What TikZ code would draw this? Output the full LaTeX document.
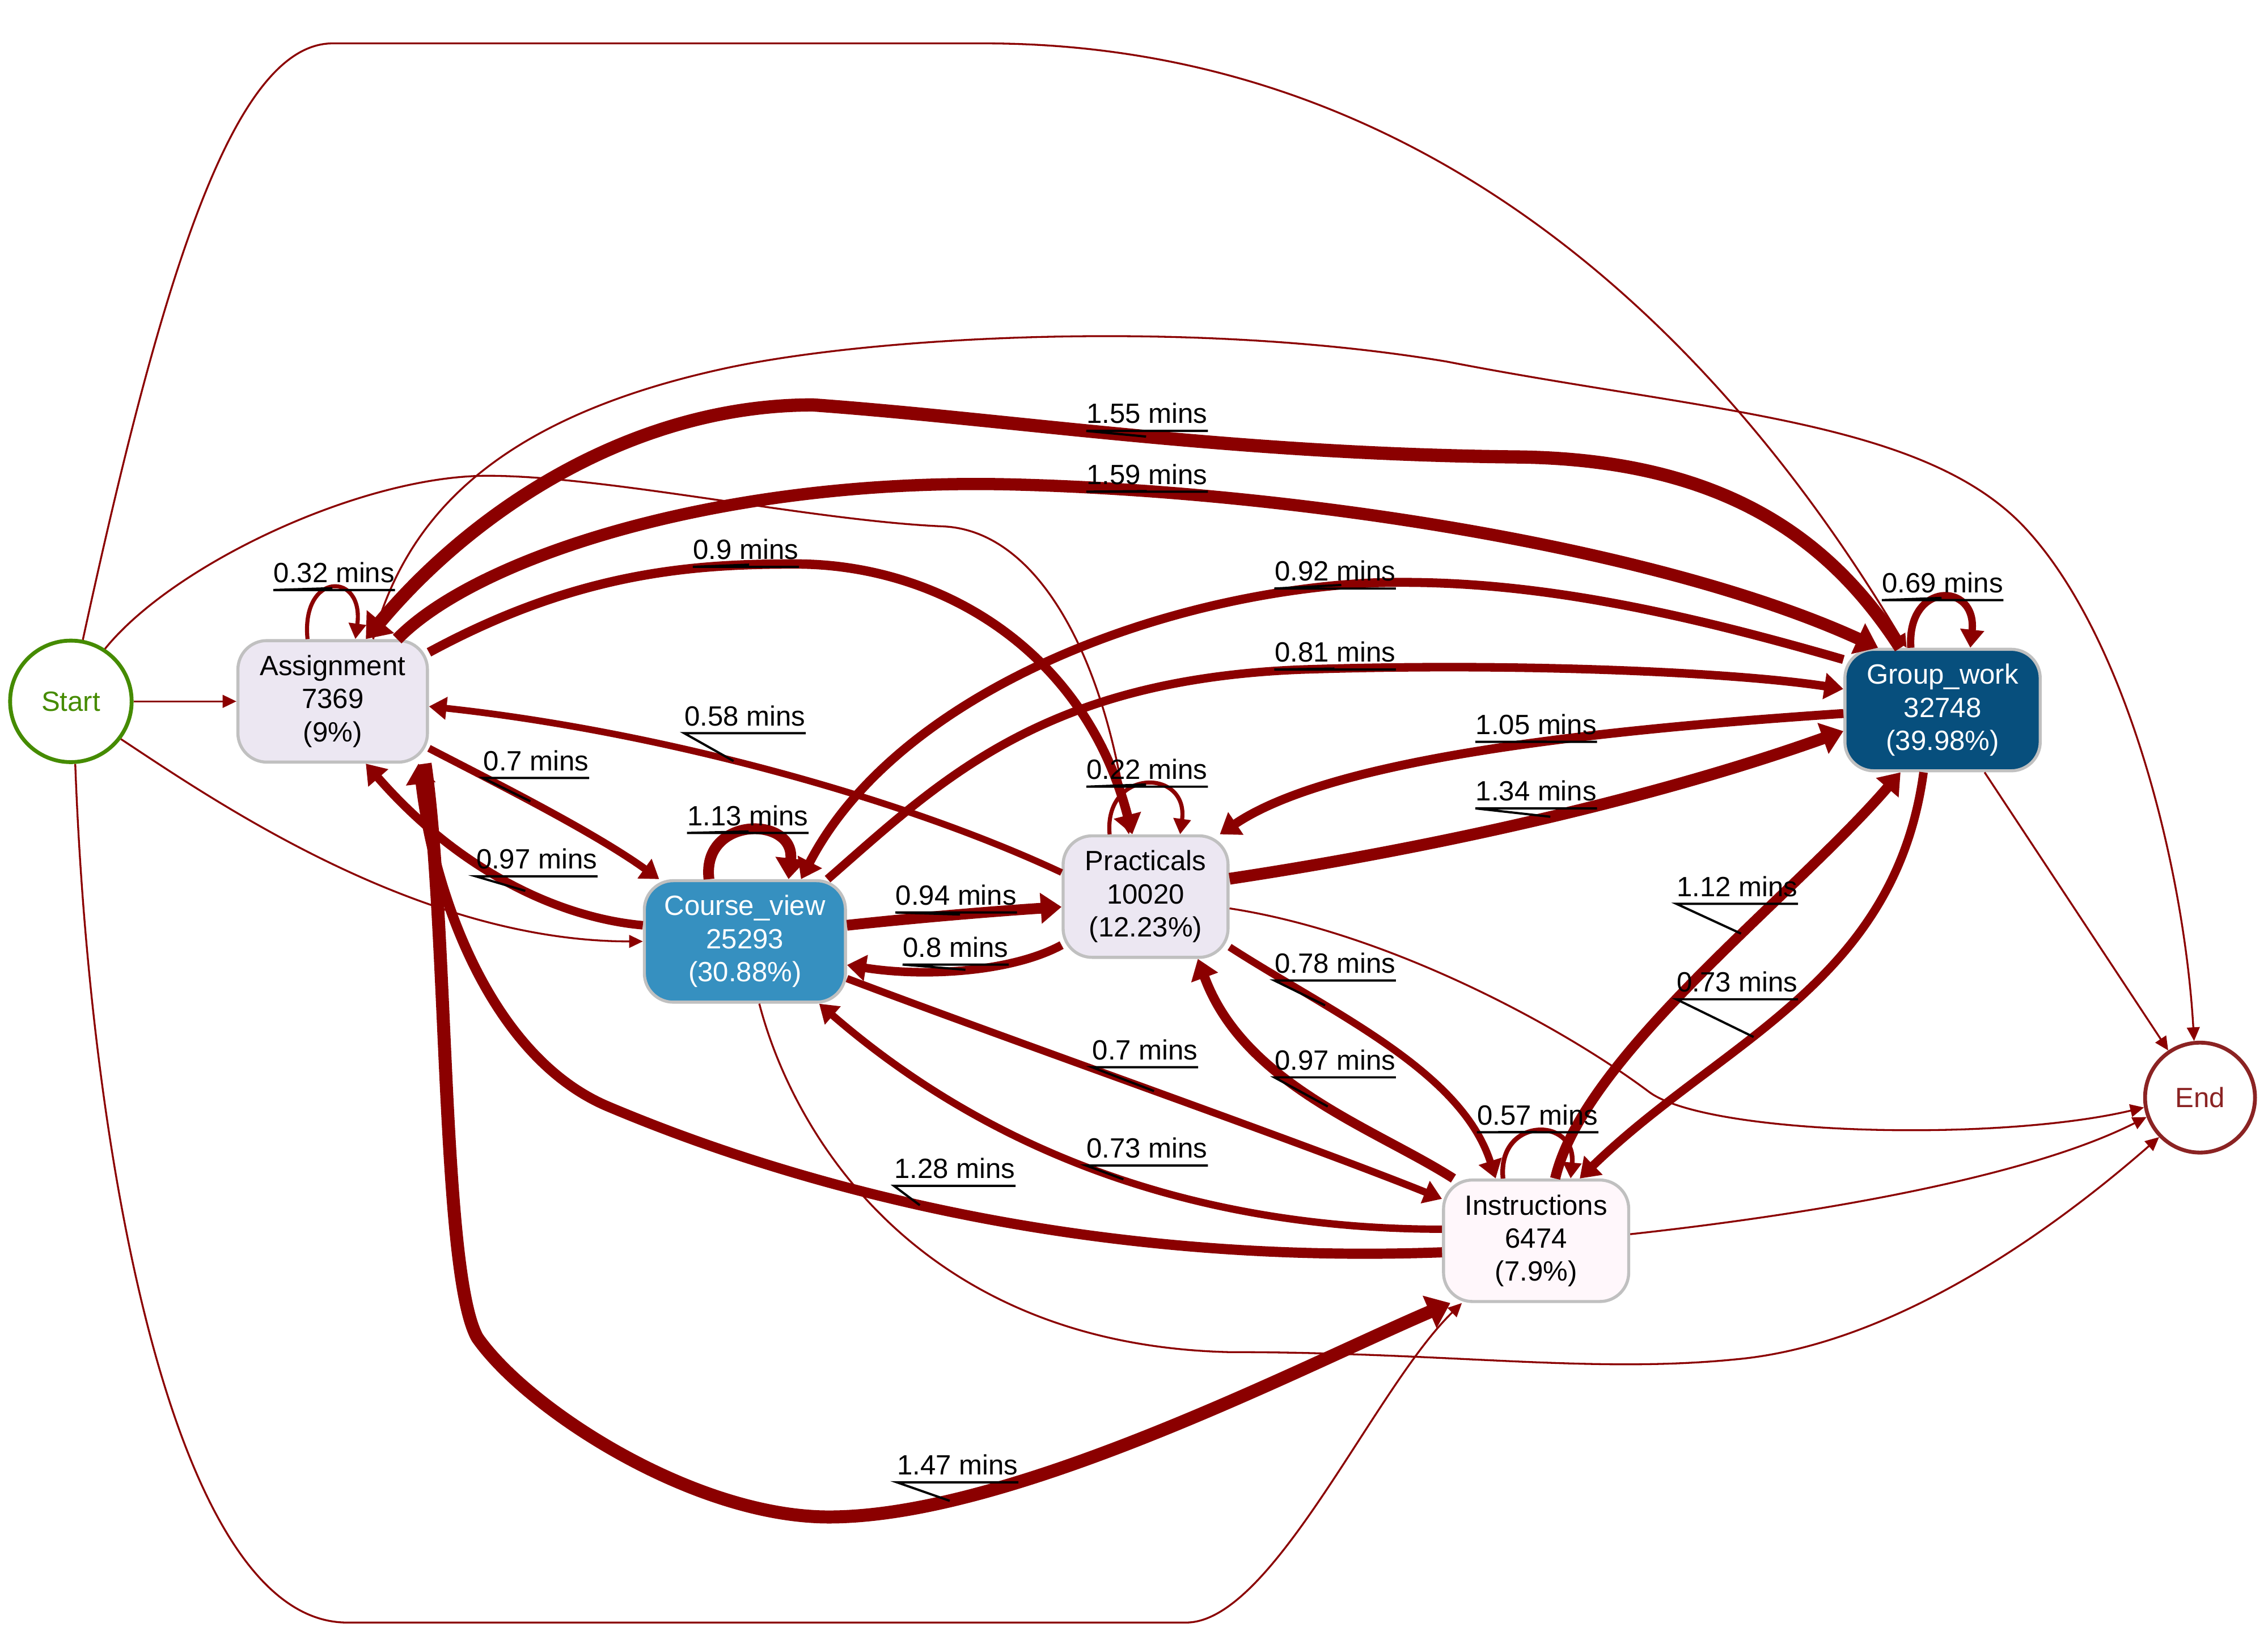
\documentclass[tikz,border=0pt]{standalone}
\usepackage{fontspec}
\setmainfont{Liberation Sans}
\usetikzlibrary{arrows.meta}
\definecolor{edgered}{HTML}{8B0000}
\definecolor{startgreen}{HTML}{458B00}
\definecolor{endbrown}{HTML}{8B2323}
\definecolor{boxgray}{HTML}{C0C0C0}
\definecolor{lilac}{HTML}{ECE7F2}
\definecolor{blush}{HTML}{FFF7FB}
\definecolor{midblue}{HTML}{3690C0}
\definecolor{deepblue}{HTML}{074F7D}
\tikzset{
  act/.style={
    draw=boxgray, line width=1.5pt, rounded corners=0.5cm,
    minimum height=2.1cm, inner sep=0pt, align=center,
    font=\fontsize{13.7pt}{16.3pt}\selectfont
  },
  terminal/.style={
    circle, line width=1.9pt, minimum size=#1, inner sep=0pt,
    font=\fontsize{13.7pt}{16.3pt}\selectfont
  },
  flow/.style={draw=edgered, line width=#1, -{Triangle[length=6pt 0.8, width=4.5pt 1.9]}},
  mins/.style={
    inner xsep=0pt, inner ysep=3.5pt, text depth=0pt, anchor=south west,
    font=\fontsize{13.7pt}{16.3pt}\selectfont
  },
  tick/.style={draw=black, line width=1.1pt}
}
\begin{document}
\begin{tikzpicture}[x=0.025cm, y=-0.025cm]
  \path[use as bounding box, fill=white] (0,0) rectangle (1568,1131);

  \node[terminal=2.1cm, draw=startgreen, text=startgreen] (st) at (49,485) {Start};
  \node[terminal=1.9cm, draw=endbrown, text=endbrown] (en) at (1521,759) {End};
  \node[act, fill=lilac, minimum width=3.275cm] (asg) at (230,485) {Assignment\\7369\\(9\%)};
  \node[act, fill=midblue, text=white, minimum width=3.475cm] (cv) at (515,651) {Course\_view\\25293\\(30.88\%)};
  \node[act, fill=lilac, minimum width=2.85cm] (pr) at (792,620) {Practicals\\10020\\(12.23\%)};
  \node[act, fill=deepblue, text=white, minimum width=3.375cm] (gw) at (1343,491) {Group\_work\\32748\\(39.98\%)};
  \node[act, fill=blush, minimum width=3.2cm] (ins) at (1062,858) {Instructions\\6474\\(7.9\%)};

  \draw[flow=0.92pt] (st.east) -- (asg.west);
  \draw[flow=0.92pt] (st.79) .. controls (110,200) and (160,30) .. (230,30) -- (680,30) .. controls (1000,30) and (1200,250) .. (gw.120);
  \draw[flow=0.92pt] (st.-37) .. controls (150,555) and (290,651) .. (cv.west);
  \draw[flow=0.92pt] (st.57) .. controls (120,390) and (250,329) .. (337,329) .. controls (420,329) and (560,360) .. (652,364) .. controls (720,367) and (765,460) .. (pr.105);
  \draw[flow=0.92pt] (st.-86) .. controls (62,800) and (120,1122) .. (240,1122) -- (820,1122) .. controls (880,1122) and (950,960) .. (ins.-140);
  \draw[flow=0.92pt] (asg.57) .. controls (280,360) and (340,290) .. (500,255) .. controls (600,233) and (820,220) .. (1000,250) .. controls (1180,285) and (1330,290) .. (1400,365) .. controls (1470,440) and (1510,600) .. (en.96);
  \draw[flow=0.92pt] (pr.-8) .. controls (960,645) and (1080,710) .. (1140,755) .. controls (1180,785) and (1380,790) .. (en.190);
  \draw[flow=0.92pt] (cv.-77) .. controls (550,790) and (640,930) .. (850,935) .. controls (1000,935) and (1100,950) .. (1200,940) .. controls (1310,930) and (1420,850) .. (en.-136);
  \draw[flow=0.92pt] (ins.4) .. controls (1250,840) and (1400,815) .. (en.200);
  \draw[flow=0.92pt] (gw.-56) -- (en.124);

  \draw[flow=2pt] (asg.112) .. controls (208,395) and (252,395) .. (asg.70) coordinate[pos=.5] (m032);
  \draw[flow=6.5pt] (gw.124) .. controls (1270,380) and (1200,318) .. (1050,316) .. controls (850,314) and (700,290) .. (562,280) coordinate[pos=.48] (m155) .. controls (440,280) and (330,350) .. (asg.62);
  \draw[flow=6pt] (asg.44) .. controls (330,385) and (500,330) .. (700,335) .. controls (900,340) and (1150,380) .. (gw.136) coordinate[pos=.15] (m159);
  \draw[flow=4.6pt] (asg.27) .. controls (400,395) and (480,390) .. (550,390) coordinate[pos=.85] (m09) .. controls (650,390) and (750,450) .. (pr.102);
  \draw[flow=4.4pt] (gw.153) .. controls (1150,420) and (1050,400) .. (950,403) .. controls (800,410) and (620,480) .. (cv.48) coordinate[pos=.05] (m092);
  \draw[flow=4.2pt] (cv.37) .. controls (650,540) and (720,470) .. (900,463) .. controls (1050,458) and (1200,465) .. (gw.168) coordinate[pos=.05] (m081);
  \draw[flow=4.4pt] (gw.182) .. controls (1100,505) and (920,525) .. (pr.40) coordinate[pos=.4] (m105);
  \draw[flow=5.8pt] (pr.12) .. controls (1000,585) and (1150,550) .. (gw.192) coordinate[pos=.5] (m134);
  \draw[flow=3.3pt] (pr.164) .. controls (620,550) and (450,505) .. (asg.-3) coordinate[pos=.55] (m058);
  \draw[flow=3.6pt] (asg.-26) .. controls (340,540) and (410,575) .. (cv.144) coordinate[pos=.45] (m07a);
  \draw[flow=4.2pt] (cv.171) .. controls (390,635) and (320,605) .. (asg.-62) coordinate[pos=.45] (m097a);
  \draw[flow=5.3pt] (cv.120) .. controls (485,564) and (550,564) .. (cv.55) coordinate[pos=.5] (m113);
  \draw[flow=5.3pt] (cv.9) .. controls (640,634) and (690,630) .. (pr.187) coordinate[pos=.5] (m094);
  \draw[flow=4.2pt] (pr.210) .. controls (700,672) and (640,676) .. (cv.-13) coordinate[pos=.5] (m08);
  \draw[flow=2pt] (pr.120) .. controls (763,531) and (822,531) .. (pr.61) coordinate[pos=.5] (m022);
  \draw[flow=3.6pt] (pr.-31) .. controls (920,700) and (1010,740) .. (ins.123) coordinate[pos=.3] (m078);
  \draw[flow=4.7pt] (ins.143) .. controls (950,780) and (860,750) .. (pr.-50) coordinate[pos=.45] (m097b);
  \draw[flow=2.3pt] (ins.118) .. controls (1035,772) and (1090,772) .. (ins.61) coordinate[pos=.5] (m057);
  \draw[flow=5pt] (ins.73) .. controls (1095,730) and (1240,620) .. (gw.236) coordinate[pos=.6] (m112);
  \draw[flow=4.2pt] (gw.253) .. controls (1310,680) and (1190,720) .. (ins.55) coordinate[pos=.6] (m073a);
  \draw[flow=3.6pt] (cv.-20) .. controls (700,720) and (900,790) .. (ins.156) coordinate[pos=.5] (m07b);
  \draw[flow=3.6pt] (ins.173) .. controls (850,850) and (700,810) .. (cv.-40) coordinate[pos=.5] (m073b);
  \draw[flow=5pt] (ins.187) .. controls (750,875) and (550,820) .. (420,765) coordinate[pos=.55] (m128) .. controls (340,731) and (300,620) .. (asg.-36);
  \draw[flow=6.4pt] (asg.-34) .. controls (310,640) and (305,880) .. (330,925) .. controls (365,975) and (480,1049) .. (573,1049) .. controls (700,1049) and (900,945) .. (ins.216) coordinate[pos=.2] (m147);
  \draw[flow=3.6pt] (gw.117) .. controls (1318,402) and (1367,402) .. (gw.66) coordinate[pos=.5] (m069);

  \node[mins] (l032) at (189,408) {0.32 mins};
  \node[mins] (l155) at (751,298) {1.55 mins};
  \node[mins] (l159) at (751,340) {1.59 mins};
  \node[mins] (l09) at (479,392) {0.9 mins};
  \node[mins] (l092) at (881,407) {0.92 mins};
  \node[mins] (l069) at (1301,415) {0.69 mins};
  \node[mins] (l081) at (881,463) {0.81 mins};
  \node[mins] (l058) at (473,507) {0.58 mins};
  \node[mins] (l07a) at (334,538) {0.7 mins};
  \node[mins] (l097a) at (329,606) {0.97 mins};
  \node[mins] (l113) at (475,576) {1.13 mins};
  \node[mins] (l094) at (619,631) {0.94 mins};
  \node[mins] (l08) at (624,667) {0.8 mins};
  \node[mins] (l022) at (751,544) {0.22 mins};
  \node[mins] (l105) at (1020,513) {1.05 mins};
  \node[mins] (l134) at (1020,559) {1.34 mins};
  \node[mins] (l078) at (881,678) {0.78 mins};
  \node[mins] (l097b) at (881,745) {0.97 mins};
  \node[mins] (l057) at (1021,783) {0.57 mins};
  \node[mins] (l112) at (1159,625) {1.12 mins};
  \node[mins] (l073a) at (1159,691) {0.73 mins};
  \node[mins] (l07b) at (755,738) {0.7 mins};
  \node[mins] (l073b) at (751,806) {0.73 mins};
  \node[mins] (l128) at (618,820) {1.28 mins};
  \node[mins] (l147) at (620,1025) {1.47 mins};

  \draw[tick] (l032.south east) -- (l032.south west) -- (m032);
  \draw[tick] (l155.south east) -- (l155.south west) -- (m155);
  \draw[tick] (l159.south east) -- (l159.south west) -- (m159);
  \draw[tick] (l09.south east) -- (l09.south west) -- (m09);
  \draw[tick] (l092.south east) -- (l092.south west) -- (m092);
  \draw[tick] (l069.south east) -- (l069.south west) -- (m069);
  \draw[tick] (l081.south east) -- (l081.south west) -- (m081);
  \draw[tick] (l058.south east) -- (l058.south west) -- (m058);
  \draw[tick] (l07a.south east) -- (l07a.south west) -- (m07a);
  \draw[tick] (l097a.south east) -- (l097a.south west) -- (m097a);
  \draw[tick] (l113.south east) -- (l113.south west) -- (m113);
  \draw[tick] (l094.south east) -- (l094.south west) -- (m094);
  \draw[tick] (l08.south east) -- (l08.south west) -- (m08);
  \draw[tick] (l022.south east) -- (l022.south west) -- (m022);
  \draw[tick] (l105.south east) -- (l105.south west) -- (m105);
  \draw[tick] (l134.south east) -- (l134.south west) -- (m134);
  \draw[tick] (l078.south east) -- (l078.south west) -- (m078);
  \draw[tick] (l097b.south east) -- (l097b.south west) -- (m097b);
  \draw[tick] (l057.south east) -- (l057.south west) -- (m057);
  \draw[tick] (l112.south east) -- (l112.south west) -- (m112);
  \draw[tick] (l073a.south east) -- (l073a.south west) -- (m073a);
  \draw[tick] (l07b.south east) -- (l07b.south west) -- (m07b);
  \draw[tick] (l073b.south east) -- (l073b.south west) -- (m073b);
  \draw[tick] (l128.south east) -- (l128.south west) -- (m128);
  \draw[tick] (l147.south east) -- (l147.south west) -- (m147);
\end{tikzpicture}
\end{document}
